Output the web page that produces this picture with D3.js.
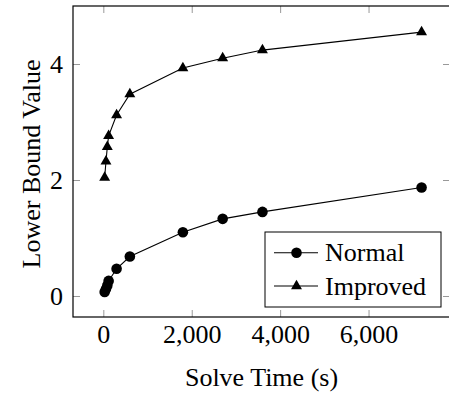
<!DOCTYPE html>
<html>
<head>
<meta charset="utf-8">
<script src="https://cdn.jsdelivr.net/npm/d3@7"></script>
<style>
  body { margin: 0; background: #fff; }
  svg { display: block; font-family: "Liberation Serif", "Times New Roman", serif; }
</style>
</head>
<body>
<div id="chart"></div>
<script>
// solve times (s) and the lower bound reached by each method
var solveTimes = [30, 60, 90, 120, 300, 600, 1800, 2700, 3600, 7200];
var normalValues = [0.07, 0.12, 0.18, 0.26, 0.47, 0.68, 1.10, 1.33, 1.45, 1.87];
var improvedValues = [2.04, 2.32, 2.57, 2.76, 3.12, 3.48, 3.93, 4.10, 4.24, 4.55];
var seriesNames = ["Normal", "Improved"];
var xTicks = [0, 2000, 4000, 6000];
var yTicks = [0, 2, 4];

var w = 449;
var h = 395;
// note: "top" is taken by window.top, so plot edges get their own names
var plotLeft = 73, plotRight = 450, plotTop = 6, plotBottom = 317;
var fontSize = 26;

var xScale = d3.scaleLinear()
               .domain([-686, 7843])
               .range([plotLeft, plotRight]);

var yScale = d3.scaleLinear()
               .domain([-0.362, 5.0])
               .range([plotBottom, plotTop]);

var svg = d3.select("#chart")
            .append("svg")
            .attr("width", w)
            .attr("height", h);

// ticks point inward on all four sides, pgfplots style
var xAxis = d3.axisBottom(xScale)
              .tickValues(xTicks)
              .tickSize(-7)
              .tickPadding(7.5)
              .tickFormat(d3.format(","));

var xAxisTop = d3.axisTop(xScale).tickValues(xTicks).tickSize(-7).tickFormat("");
var yAxis = d3.axisLeft(yScale)
              .tickValues(yTicks)
              .tickSize(-7)
              .tickPadding(10)
              .tickFormat(d3.format("d"));
var yAxisRight = d3.axisRight(yScale).tickValues(yTicks).tickSize(-7).tickFormat("");

function styleAxis(g) {
  g.select(".domain").remove();
  g.selectAll(".tick line").attr("stroke", "#999").attr("stroke-width", 1);
  g.selectAll(".tick text")
   .attr("fill", "#000")
   .style("font-size", fontSize + "px")
   .style("font-family", "'Liberation Serif', 'Times New Roman', serif");
}

svg.append("g").attr("transform", "translate(0," + plotBottom + ")").call(xAxis).call(styleAxis);
svg.append("g").attr("transform", "translate(0," + plotTop + ")").call(xAxisTop).call(styleAxis);
svg.append("g").attr("transform", "translate(" + plotLeft + ",0)").call(yAxis).call(styleAxis);
svg.append("g").attr("transform", "translate(" + plotRight + ",0)").call(yAxisRight).call(styleAxis);

svg.append("rect")
   .attr("x", plotLeft)
   .attr("y", plotTop)
   .attr("width", plotRight - plotLeft)
   .attr("height", plotBottom - plotTop)
   .attr("fill", "none")
   .attr("stroke", "#000")
   .attr("stroke-width", 1.2);

var line = d3.line()
             .x(function(d) { return xScale(d[0]); })
             .y(function(d) { return yScale(d[1]); });

var circleSym = d3.symbol().type(d3.symbolCircle).size(Math.PI * 5.3 * 5.3);
var triangleSym = d3.symbol().type(d3.symbolTriangle).size(52);

var series = [
  { name: seriesNames[0], values: normalValues, sym: circleSym },
  { name: seriesNames[1], values: improvedValues, sym: triangleSym }
];

series.forEach(function(s) {
  var pts = solveTimes.map(function(t, i) { return [t, s.values[i]]; });

  svg.append("path")
     .datum(pts)
     .attr("d", line)
     .attr("fill", "none")
     .attr("stroke", "#000")
     .attr("stroke-width", 1.1);

  svg.selectAll(null)
     .data(pts)
     .enter()
     .append("path")
     .attr("d", s.sym)
     .attr("transform", function(d) {
       return "translate(" + xScale(d[0]) + "," + yScale(d[1]) + ")";
     })
     .attr("fill", "#000");
});

// axis titles
svg.append("text")
   .attr("x", (plotLeft + plotRight) / 2)
   .attr("y", 386)
   .attr("text-anchor", "middle")
   .style("font-size", fontSize + "px")
   .text("Solve Time (s)");

svg.append("text")
   .attr("transform", "translate(40,164) rotate(-90)")
   .attr("text-anchor", "middle")
   .style("font-size", fontSize + "px")
   .text("Lower Bound Value");

// legend
var legend = svg.append("g");
legend.append("rect")
      .attr("x", 265)
      .attr("y", 232)
      .attr("width", 176)
      .attr("height", 75)
      .attr("fill", "#fff")
      .attr("stroke", "#000")
      .attr("stroke-width", 1);

series.forEach(function(s, i) {
  var ly = 252.7 + i * 33.3;
  legend.append("line")
        .attr("x1", 274).attr("x2", 318)
        .attr("y1", ly).attr("y2", ly)
        .attr("stroke", "#000")
        .attr("stroke-width", 1.1);
  legend.append("path")
        .attr("d", s.sym)
        .attr("transform", "translate(296.5," + ly + ")")
        .attr("fill", "#000");
  legend.append("text")
        .attr("x", 325)
        .attr("y", ly + 8.5)
        .style("font-size", fontSize + "px")
        .text(s.name);
});
</script>
</body>
</html>
